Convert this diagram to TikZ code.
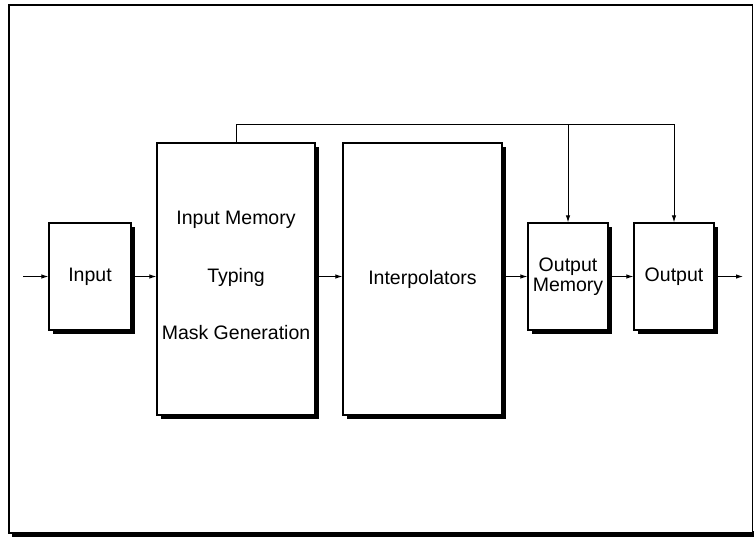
\documentclass[tikz,border=0pt]{standalone}
\usepackage{fontspec}
\setmainfont{Liberation Sans}
\usetikzlibrary{arrows.meta,shadows}
\begin{document}
\begin{tikzpicture}[x=1pt,y=-1pt,
  blk/.style={draw=black, line width=1.3pt, fill=white, inner sep=0pt,
    drop shadow={shadow xshift=3.5pt, shadow yshift=-3.5pt, opacity=1, fill=black},
    font=\fontsize{19.5}{23}\selectfont, align=center},
  conn/.style={draw=black, line width=0.9pt},
  arr/.style={conn, -{Latex[length=7pt,width=4.5pt]}},
  lbl/.style={font=\fontsize{19.5}{23}\selectfont, inner sep=0pt}
]
\useasboundingbox (0,0) rectangle (754,539);
% outer frame with shadow along the bottom
\fill[black] (12,531) rectangle (754,537);
\draw[line width=1.2pt, fill=white] (9,5) rectangle (752.5,533);

\node[blk, minimum width=82pt, minimum height=107pt] (input) at (90,276.5) {Input};
\node[blk, minimum width=158pt, minimum height=272pt] (mem) at (236,279) {};
\node[lbl] (t1) at (236,220) {Input Memory};
\node[lbl] (t2) at (236,277) {Typing};
\node[lbl] (t3) at (236,333) {Mask Generation};
\node[blk, minimum width=159pt, minimum height=272pt] (interp) at (422.5,279) {Interpolators};
\node[blk, minimum width=80pt, minimum height=107pt] (outmem) at (568,276.5) {Output\\[-3pt]Memory};
\node[blk, minimum width=80pt, minimum height=107pt] (output) at (674,276.5) {Output};

\coordinate (in) at (23,276.5);
\coordinate (out) at (743,276.5);
\coordinate (top) at (0,124);

\draw[arr] (in) -- (input.west);
\draw[arr] (input.east) ++(3.5pt,0) -- (mem.west |- input.east);
\draw[arr] (mem.east |- input.east) ++(3.5pt,0) -- (interp.west |- input.east);
\draw[arr] (interp.east |- outmem.west) ++(3.5pt,0) -- (outmem.west);
\draw[arr] (outmem.east) ++(3.5pt,0) -- (output.west);
\draw[arr] (output.east) ++(3.5pt,0) -- (out);

\draw[conn] (mem.north) |- (top -| output.north);
\draw[arr] (top -| output.north) -- (output.north);
\draw[arr] (top -| outmem.north) -- (outmem.north);
\end{tikzpicture}
\end{document}
